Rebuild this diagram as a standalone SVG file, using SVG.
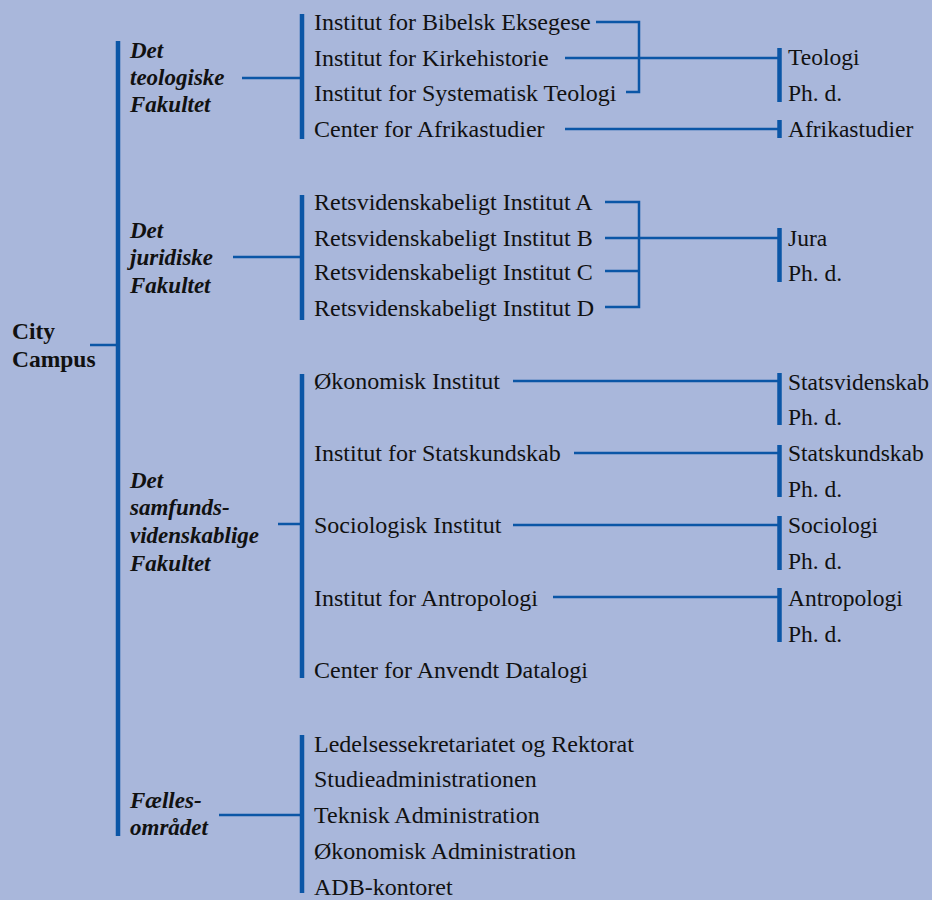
<svg xmlns="http://www.w3.org/2000/svg" width="932" height="900" viewBox="0 0 932 900">
<style>
.bg{fill:#A9B7DB}
.t{font-family:"Liberation Serif","Times New Roman",serif;font-size:24px;fill:#111}
.r{font-size:23.5px}
.lab{font-family:"Liberation Serif","Times New Roman",serif;font-size:23px;font-weight:bold;font-style:italic;fill:#111}
.root{font-family:"Liberation Serif","Times New Roman",serif;font-size:23.5px;font-weight:bold;fill:#111}
.bar{stroke:#0B56A6;stroke-width:4.5;fill:none}
.ln{stroke:#0B56A6;stroke-width:2.5;fill:none}
</style>
<rect class="bg" x="0" y="0" width="932" height="900"/>

<g id="connectors">
  <line class="ln" x1="90" y1="345" x2="117" y2="345"/>
  <line class="bar" x1="118" y1="41" x2="118" y2="836"/>
  <line class="ln" x1="242" y1="78" x2="301" y2="78"/>
  <line class="bar" x1="302" y1="14" x2="302" y2="139"/>
  <polyline class="ln" points="596,22 639,22 639,92 626,92"/>
  <line class="ln" x1="565" y1="58" x2="778" y2="58"/>
  <line class="ln" x1="565" y1="129" x2="778" y2="129"/>
  <line class="bar" x1="779.5" y1="48" x2="779.5" y2="102"/>
  <line class="bar" x1="779.5" y1="120" x2="779.5" y2="138"/>
  <line class="ln" x1="233" y1="257" x2="301" y2="257"/>
  <line class="bar" x1="302" y1="195" x2="302" y2="320"/>
  <polyline class="ln" points="605,202 639,202 639,307 605,307"/>
  <line class="ln" x1="605" y1="238" x2="778" y2="238"/>
  <line class="ln" x1="605" y1="271" x2="639" y2="271"/>
  <line class="bar" x1="779.5" y1="228" x2="779.5" y2="282"/>
  <line class="ln" x1="278" y1="524" x2="301" y2="524"/>
  <line class="bar" x1="302" y1="374" x2="302" y2="678"/>
  <line class="ln" x1="513" y1="381" x2="778" y2="381"/>
  <line class="ln" x1="574" y1="453" x2="778" y2="453"/>
  <line class="ln" x1="513" y1="525" x2="778" y2="525"/>
  <line class="ln" x1="553" y1="597" x2="778" y2="597"/>
  <line class="bar" x1="779.5" y1="373" x2="779.5" y2="425"/>
  <line class="bar" x1="779.5" y1="445" x2="779.5" y2="497"/>
  <line class="bar" x1="779.5" y1="516" x2="779.5" y2="570"/>
  <line class="bar" x1="779.5" y1="588" x2="779.5" y2="642"/>
  <line class="ln" x1="219" y1="815" x2="301" y2="815"/>
  <line class="bar" x1="302" y1="735" x2="302" y2="893"/>
</g>

<g id="root"><text class="root" x="12" y="339">City</text><text class="root" x="12" y="367">Campus</text></g>

<g id="fac-teol"><text class="lab" x="130" y="58">Det</text><text class="lab" x="130" y="85">teologiske</text><text class="lab" x="130" y="112">Fakultet</text></g>
<g id="fac-jur"><text class="lab" x="130" y="238">Det</text><text class="lab" x="130" y="265">juridiske</text><text class="lab" x="130" y="293">Fakultet</text></g>
<g id="fac-samf"><text class="lab" x="130" y="488">Det</text><text class="lab" x="130" y="515">samfunds-</text><text class="lab" x="130" y="543">videnskablige</text><text class="lab" x="130" y="571">Fakultet</text></g>
<g id="fac-faelles"><text class="lab" x="130" y="808">Fælles-</text><text class="lab" x="130" y="835">området</text></g>

<g id="teol-inst">
  <text class="t" x="314" y="30">Institut for Bibelsk Eksegese</text>
  <text class="t" x="314" y="66">Institut for Kirkehistorie</text>
  <text class="t" x="314" y="101">Institut for Systematisk Teologi</text>
  <text class="t" x="314" y="137">Center for Afrikastudier</text>
</g>
<g id="teol-udd">
  <text class="t r" x="788" y="65">Teologi</text>
  <text class="t r" x="788" y="101">Ph. d.</text>
  <text class="t r" x="788" y="137">Afrikastudier</text>
</g>

<g id="jur-inst">
  <text class="t" x="314" y="210">Retsvidenskabeligt Institut A</text>
  <text class="t" x="314" y="246">Retsvidenskabeligt Institut B</text>
  <text class="t" x="314" y="280">Retsvidenskabeligt Institut C</text>
  <text class="t" x="314" y="316">Retsvidenskabeligt Institut D</text>
</g>
<g id="jur-udd">
  <text class="t r" x="788" y="246">Jura</text>
  <text class="t r" x="788" y="281">Ph. d.</text>
</g>

<g id="samf-inst">
  <text class="t" x="314" y="389">Økonomisk Institut</text>
  <text class="t" x="314" y="461">Institut for Statskundskab</text>
  <text class="t" x="314" y="533">Sociologisk Institut</text>
  <text class="t" x="314" y="606">Institut for Antropologi</text>
  <text class="t" x="314" y="678">Center for Anvendt Datalogi</text>
</g>
<g id="samf-udd">
  <text class="t r" x="788" y="390">Statsvidenskab</text>
  <text class="t r" x="788" y="425">Ph. d.</text>
  <text class="t r" x="788" y="461">Statskundskab</text>
  <text class="t r" x="788" y="497">Ph. d.</text>
  <text class="t r" x="788" y="533">Sociologi</text>
  <text class="t r" x="788" y="569">Ph. d.</text>
  <text class="t r" x="788" y="606">Antropologi</text>
  <text class="t r" x="788" y="642">Ph. d.</text>
</g>

<g id="faelles-enheder">
  <text class="t" x="314" y="752">Ledelsessekretariatet og Rektorat</text>
  <text class="t" x="314" y="787">Studieadministrationen</text>
  <text class="t" x="314" y="823">Teknisk Administration</text>
  <text class="t" x="314" y="859">Økonomisk Administration</text>
  <text class="t" x="314" y="895">ADB-kontoret</text>
</g>
</svg>
